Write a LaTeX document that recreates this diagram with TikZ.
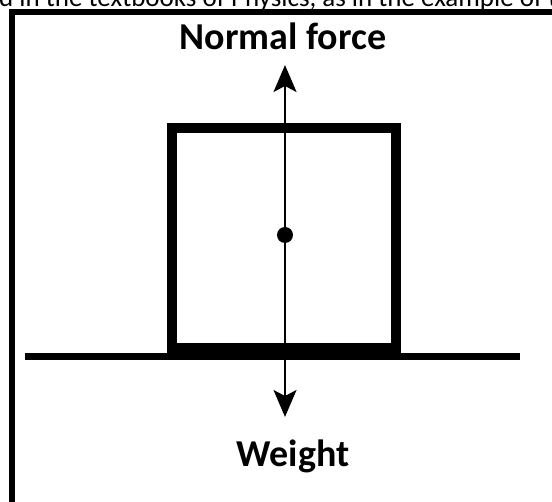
\documentclass[tikz,border=0pt]{standalone}
\usepackage{fontspec}
\newfontfamily\labelfont{Carlito}
\usetikzlibrary{arrows.meta,positioning}

\begin{document}
\begin{tikzpicture}[x=1pt,y=-1pt,
  force/.style={-{Stealth[length=27pt,width=23pt,inset=6pt]},line width=2pt},
  lbl/.style={font=\labelfont\bfseries\fontsize{38}{40}\selectfont,inner sep=0pt,anchor=base}]
  \useasboundingbox (0,0) rectangle (552,502);
  \clip (0,0) rectangle (552,502);
  % cut-off caption line at the top
  \node[font=\labelfont\fontsize{27}{30}\selectfont,anchor=base west,inner sep=0pt] (caption) at (-1,7) {d in the textbooks of Physics, as in the example of the};
  % frame
  \draw[line width=6pt] (12,520) -- (12,12) -- (570,12);
  % ground and block
  \draw[line width=7pt] (25,356.5) -- (520,356.5);
  \draw[line width=10pt] (172,348) rectangle (396,128);
  % centre of mass and the two forces
  \coordinate (cm) at (285,235);
  \coordinate (ntip) at (285,65);
  \coordinate (wtip) at (285,417);
  \node[lbl] (normal) at (283,50) {Normal force};
  \node[lbl] (weight) at (293,467) {Weight};
  \draw[force] (cm) -- (ntip);
  \draw[force] (cm) -- (wtip);
  \fill (cm) circle (8pt);
\end{tikzpicture}
\end{document}
